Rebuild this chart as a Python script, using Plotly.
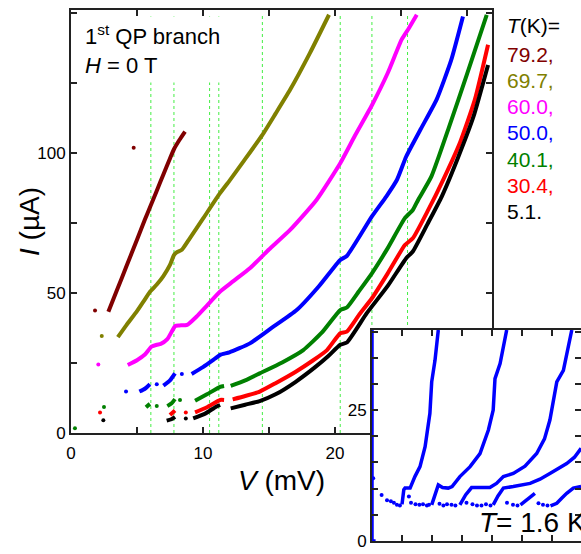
import plotly.graph_objects as go

FONT = "Arial, 'Liberation Sans', sans-serif"

# ---------------- main panel data (V in mV, I in µA) ----------------
temps_K = ["79.2", "69.7", "60.0", "50.0", "40.1", "30.4", "5.1"]
colors = ["#800000", "#808000", "#ff00ff", "#0000ff", "#008000", "#ff0000", "#000000"]

V_792 = [2.83, 3.5, 4.2, 5.0, 5.6, 6.0, 6.5, 7.0, 7.5, 7.8, 8.2, 8.64]
I_792 = [43.3, 51.2, 59.5, 69.0, 76.2, 80.8, 86.5, 92.3, 98.0, 101.3, 104.5, 107.6]
Vd_792 = [1.82, 4.75]
Id_792 = [43.7, 101.8]

V_697 = [3.55, 4.2, 5.0, 5.5, 6.0, 6.5, 7.0, 7.5, 7.8, 8.0, 8.4, 9.0, 10.0, 11.2,
         12.0, 13.0, 14.5, 15.5, 16.6, 18.1, 19.55]
I_697 = [34.2, 38.5, 43.5, 47.0, 50.5, 53.0, 56.0, 60.0, 63.5, 64.5, 65.4, 69.5, 76.5, 85.0,
         90.0, 96.5, 106.4, 114.0, 122.5, 135.6, 149.3]
Vd_697 = [2.33]
Id_697 = [34.6]

V_600 = [4.3, 5.0, 5.6, 6.1, 6.5, 6.8, 7.3, 7.9, 8.2, 8.8, 9.5, 10.3, 11.3, 12.3, 13.6,
         15.0, 16.6, 18.6, 20.4, 21.5, 22.8, 24.0, 25.05, 25.6, 26.2]
I_600 = [24.3, 26.0, 28.0, 30.8, 31.5, 31.8, 33.5, 38.2, 38.4, 38.6, 41.5, 45.5, 50.5, 54.2, 59.0,
         65.5, 72.5, 83.2, 96.3, 106.0, 117.0, 128.5, 140.4, 144.5, 149.3]
Vd_600 = [2.07]
Id_600 = [24.5]

V_500 = [5.18, 5.6, 5.98, None, 7.0, 7.5, 7.88, None, 9.14, 10.0, 10.7, 11.3, 12.0, 13.56,
         15.2, 17.1, 18.8, 20.4, 20.9, 22.8, 23.9, 24.7, 25.4, 26.5, 27.7, 28.8, 29.7]
I_500 = [14.8, 15.8, 17.4, None, 16.9, 18.8, 21.3, None, 21.1, 23.5, 25.8, 27.9, 28.8, 32.0,
         37.5, 43.9, 52.5, 61.8, 63.2, 77.3, 84.5, 90.4, 98.7, 108.5, 119.0, 133.0, 148.7]
Vd_500 = [4.17, 6.5, 8.4]
Id_500 = [14.8, 17.4, 21.1]

V_401 = [5.68, 5.98, None, 7.3, 7.6, 7.88, None, 9.4, 10.3, 11.3, 11.6, None, 12.1, 13.2,
         14.3, 16.0, 17.6, 19.0, 20.4, 20.9, 21.8, 22.8, 24.0, 25.3, 25.9, 26.3, 27.3, 28.7,
         30.0, 31.5]
I_401 = [9.2, 10.4, None, 9.6, 10.5, 12.1, None, 11.5, 13.8, 16.5, 16.8, None, 16.8, 18.8,
         21.3, 25.2, 29.6, 35.8, 43.9, 44.8, 50.5, 57.0, 66.0, 76.7, 79.6, 83.2, 91.5, 110.0,
         128.0, 149.3]
Vd_401 = [0.3, 2.5, 6.5, 8.26]
Id_401 = [1.7, 9.3, 9.6, 11.8]

V_304 = [7.5, 7.88, None, 9.4, 10.3, 11.3, 11.6, None, 12.25, 13.2, 14.3, 15.5, 17.0, 18.3,
         19.4, 20.4, 20.9, 21.8, 22.8, 24.0, 25.3, 25.9, 27.0, 28.2, 29.5, 30.6, 31.6]
I_304 = [6.4, 8.0, None, 7.4, 9.2, 11.8, 11.8, None, 12.0, 13.2, 14.8, 17.8, 21.8, 25.8,
         29.6, 35.6, 36.2, 42.0, 48.1, 57.0, 67.1, 69.5, 79.0, 90.4, 104.0, 119.0, 138.6]
Vd_304 = [2.2, 8.7]
Id_304 = [7.3, 7.3]

V_51 = [7.25, 7.6, 7.88, None, 9.26, 10.2, 11.0, 11.3, None, 12.1, 13.2, 14.3, 15.5, 17.0,
        18.5, 19.5, 20.4, 20.9, 22.4, 24.0, 25.4, 25.9, 27.0, 28.1, 29.3, 30.5, 31.6]
I_51 = [4.4, 4.9, 5.8, None, 5.2, 7.0, 9.4, 10.0, None, 8.8, 10.1, 11.4, 13.8, 18.2,
        23.5, 27.5, 31.5, 32.3, 42.7, 52.5, 62.4, 64.8, 74.5, 84.5, 98.0, 113.0, 131.4]
Vd_51 = [2.45, 8.7]
Id_51 = [4.6, 5.2]

# voltages of the green dotted guide lines (mV)
guide_V = [6.05, 7.8, 10.5, 11.2, 14.5, 20.4, 22.8, 25.5]

# ---------------- inset data (T = 1.6 K) ----------------
ins_V0 = [1.2, 0.0, 0.0]
ins_I0 = [0.0, 0.0, 40.3]
ins_V1 = [10.0, 10.6, 11.0, 12.7, 14.3, 16.0, 17.7, 19.3, 19.9, 21.0, 22.1]
ins_I1 = [7.0, 9.8, 10.1, 10.1, 12.3, 14.2, 18.0, 24.4, 30.4, 34.5, 40.3]
ins_V2 = [19.9, 21.0, 22.1, 23.5, 25.4, 26.7, 29.3, 32.7, 36.0, 38.8, 40.4, 41.0, 42.7, 44.9]
ins_I2 = [6.9, 8.8, 10.7, 10.2, 10.1, 10.4, 12.3, 14.2, 16.7, 21.2, 25.0, 31.0, 33.9, 40.3]
ins_V3 = [29.3, 31.2, 33.2, 35.5, 37.7, 39.3, 41.5, 43.8, 47.1, 51.0, 54.9, 57.5, 59.3, 61.6,
          63.8, 66.6]
ins_I3 = [6.9, 8.8, 10.2, 10.2, 10.2, 10.2, 11.0, 12.3, 12.9, 14.3, 16.7, 19.5, 23.1, 30.4,
          32.6, 40.3]
ins_V4 = [40.4, 42.0, 43.8, 45.5, 47.1, 52.7, 56.0, 59.3, 62.0, 64.9, 67.5, 69.7]
ins_I4 = [6.9, 8.6, 10.1, 10.2, 10.4, 11.0, 11.8, 12.9, 13.8, 14.8, 16.0, 17.7]
ins_V5 = [49.5, 51.0, 52.5, 54.3]
ins_I5 = [6.9, 7.6, 8.3, 9.1]
ins_V6 = [59.5, 61.6, 63.3, 64.9, 67.1, 69.7]
ins_I6 = [6.7, 7.2, 8.2, 9.1, 10.1, 10.4]
ins_Vd = [0.4, 3.2, 5.0, 6.3, 7.3, 8.3, 9.3, 12.3, 13.0, 14.5, 15.8, 17.0, 18.3, 19.0,
          22.5, 23.8, 25.0, 26.5, 27.8, 31.5, 33.5, 35.0, 36.5, 38.0, 39.5, 45.0, 47.0,
          48.5, 55.5, 57.0, 58.5]
ins_Id = [12.0, 8.8, 7.8, 7.6, 7.3, 6.9, 6.8, 8.5, 7.3, 7.0, 6.9, 7.0, 6.8, 6.9,
          7.1, 6.8, 7.0, 6.9, 6.8, 7.3, 7.0, 6.8, 6.8, 7.0, 6.8, 7.3, 6.9,
          6.8, 7.2, 6.9, 6.8]

fig = go.Figure()

curves = [
    (V_792, I_792, Vd_792, Id_792),
    (V_697, I_697, Vd_697, Id_697),
    (V_600, I_600, Vd_600, Id_600),
    (V_500, I_500, Vd_500, Id_500),
    (V_401, I_401, Vd_401, Id_401),
    (V_304, I_304, Vd_304, Id_304),
    (V_51, I_51, Vd_51, Id_51),
]
for (V, I, Vd, Id), c, t in zip(curves, colors, temps_K):
    fig.add_trace(go.Scatter(x=V, y=I, mode="lines", connectgaps=False,
                             line=dict(color=c, width=4, shape="spline", smoothing=0.5),
                             name=t + " K", xaxis="x", yaxis="y", hoverinfo="skip"))
    fig.add_trace(go.Scatter(x=Vd, y=Id, mode="markers",
                             marker=dict(color=c, size=4), name=t + " K",
                             xaxis="x", yaxis="y", hoverinfo="skip"))

inset_blue = "#0000ff"
for V, I in [(ins_V0, ins_I0), (ins_V1, ins_I1), (ins_V2, ins_I2), (ins_V3, ins_I3),
             (ins_V4, ins_I4), (ins_V5, ins_I5), (ins_V6, ins_I6)]:
    fig.add_trace(go.Scatter(x=V, y=I, mode="lines", line=dict(color=inset_blue, width=3.5),
                             xaxis="x2", yaxis="y2", hoverinfo="skip"))
fig.add_trace(go.Scatter(x=ins_Vd, y=ins_Id, mode="markers",
                         marker=dict(color=inset_blue, size=4),
                         xaxis="x2", yaxis="y2", hoverinfo="skip"))

for v in guide_V:
    fig.add_shape(type="line", xref="x", yref="y domain", x0=v, x1=v, y0=0, y1=0.99,
                  line=dict(color="#44ee44", width=1, dash="dot"), layer="below")

axcol = "#222222"
common = dict(ticks="inside", ticklen=6, tickwidth=1.5, tickcolor=axcol, showline=True,
              linewidth=2, linecolor=axcol, mirror="ticks", showgrid=False, zeroline=False,
              automargin=False,
              tickfont=dict(family=FONT, size=17, color="black"))

fig.update_layout(
    template="none",
    width=581, height=554,
    margin=dict(l=71, r=0, t=10, b=0, autoexpand=False),
    paper_bgcolor="white", plot_bgcolor="white",
    font=dict(family=FONT, size=17, color="black"),
    showlegend=False,
    xaxis=dict(domain=[0, 0.8255], range=[0, 31.9], anchor="y",
               tickvals=[0, 5, 10, 15, 20, 25, 30],
               ticktext=["0", "", "10", "", "20", "", "30"],
               ticklabelstandoff=4,
               title=dict(text="<i>V</i> (mV)", font=dict(family=FONT, size=28), standoff=8),
               **common),
    yaxis=dict(domain=[0.2224, 1], range=[0, 151], anchor="x",
               tickvals=[0, 25, 50, 75, 100, 125, 150],
               ticktext=["0", "", "50", "", "100", "", ""],
               **common),
    xaxis2=dict(domain=[0.5902, 1], range=[0, 69.67], anchor="y2",
                tickvals=[0, 10, 20, 30, 40, 50, 60],
                ticktext=["0", "", "20", "", "40", "", "60"],
                ticklabelstandoff=4, **common),
    yaxis2=dict(domain=[0.0239, 0.4118], range=[0, 40.3], anchor="x2",
                tickvals=[0, 5, 10, 15, 20, 25, 30, 35, 40],
                ticktext=["0", "", "", "", "", "25", "", "", ""], **common),
)

# y-axis title (rotated text placed close to the tick labels like the original)
fig.add_annotation(xref="paper", yref="paper", x=(30 - 71) / 510, y=(554 - 222) / 544,
                   xanchor="center", yanchor="middle", textangle=-90, showarrow=False,
                   text="<i>I</i> (µA)", font=dict(family=FONT, size=28, color="black"))

fig.add_annotation(xref="paper", yref="paper", x=0.0176, y=0.9265,
                   xanchor="left", yanchor="middle", align="left", showarrow=False,
                   text="1<sup>st</sup> QP branch<br><i>H</i> = 0 T",
                   font=dict(family=FONT, size=22, color="black"),
                   bgcolor="white", borderpad=4)

labels = ["<i>T</i>(K)="] + [t + "," for t in temps_K[:-1]] + [temps_K[-1] + "."]
lab_colors = ["black"] + colors
lab_y = [0.9706, 0.9191, 0.8713, 0.8235, 0.7739, 0.7243, 0.6765, 0.6287]
for txt, c, yy in zip(labels, lab_colors, lab_y):
    fig.add_annotation(xref="paper", yref="paper", x=0.851, y=yy, xanchor="left",
                       yanchor="middle", showarrow=False, text=txt,
                       font=dict(family=FONT, size=21, color=c))

fig.add_annotation(xref="paper", yref="paper", x=0.796, y=0.057, xanchor="left",
                   yanchor="middle", showarrow=False, text="<i>T</i>= 1.6 K",
                   font=dict(family=FONT, size=28, color="black"))

fig.write_html("out.html", config={"displayModeBar": False},
               post_script="document.body.style.margin='0px';document.body.style.overflow='hidden';")
